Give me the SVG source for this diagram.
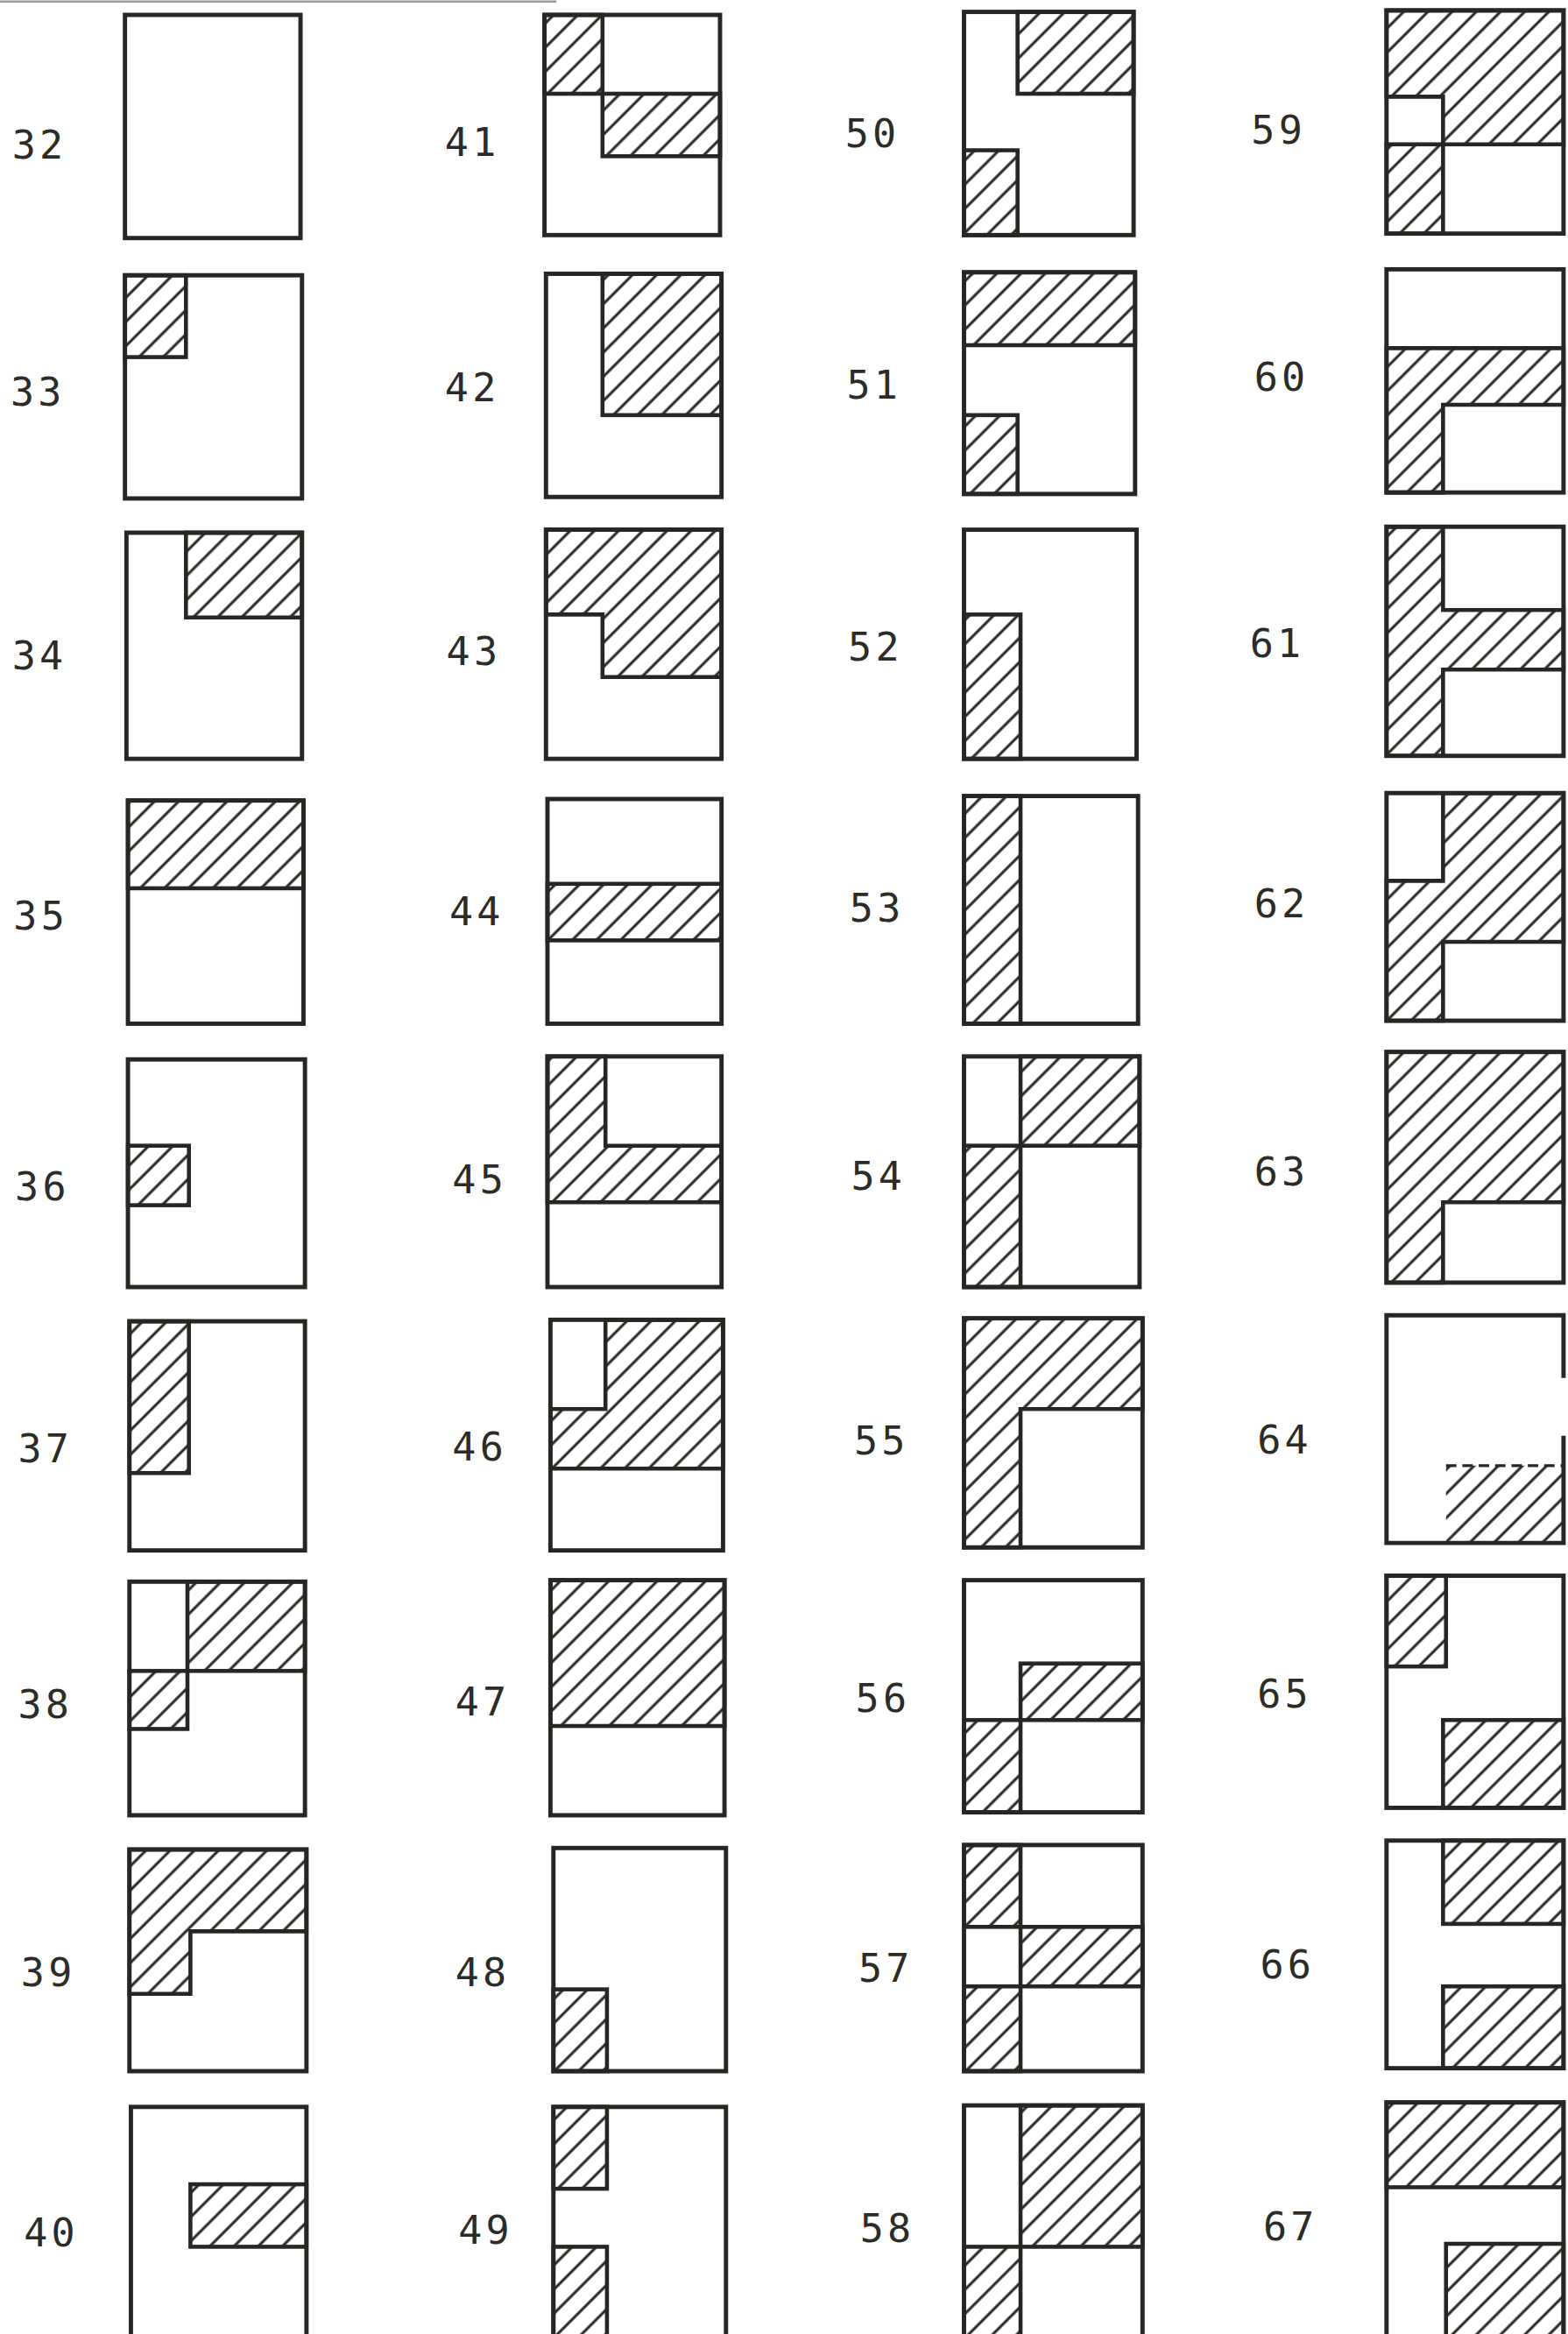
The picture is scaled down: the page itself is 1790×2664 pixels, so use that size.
<svg xmlns="http://www.w3.org/2000/svg" width="1790" height="2664" viewBox="0 0 1790 2664">
<defs>
<pattern id="h" patternUnits="userSpaceOnUse" width="11.5" height="11.5" patternTransform="rotate(45)">
<line x1="5.75" y1="-1" x2="5.75" y2="12.5" stroke="#262622" stroke-width="1.8"/>
</pattern>
<style>
.box{fill:none;stroke:#262622;stroke-width:2.9;stroke-linejoin:miter}
.hat{fill:url(#h);stroke:#262622;stroke-width:2.7;stroke-linejoin:miter}
.hn{fill:url(#h);stroke:none}
.lbl{font-family:"DejaVu Sans Mono","Liberation Mono",monospace;font-size:26.5px;letter-spacing:2.5px;fill:#2b2b28;text-anchor:middle}
</style>
</defs>
<rect width="1790" height="2664" fill="#ffffff"/>
<g transform="scale(1.6983)">
<line x1="0" y1="1" x2="374" y2="1" stroke="#9a9a9a" stroke-width="1.5"/>

<!-- column 1 -->
<g id="fig-32"><text class="lbl" x="26.5" y="106.7">32</text>
<rect class="box" x="84" y="10" width="118" height="150"/></g>
<g id="fig-33"><text class="lbl" x="25.5" y="272.7">33</text>
<rect class="hat" x="84" y="185" width="41" height="55"/>
<rect class="box" x="84" y="185" width="119" height="150"/></g>
<g id="fig-34"><text class="lbl" x="26.5" y="449.7">34</text>
<rect class="hat" x="125" y="358" width="78" height="57"/>
<rect class="box" x="85" y="358" width="118" height="152"/></g>
<g id="fig-35"><text class="lbl" x="27.5" y="624.7">35</text>
<rect class="hat" x="86" y="538" width="118" height="59"/>
<rect class="box" x="86" y="538" width="118" height="150"/></g>
<g id="fig-36"><text class="lbl" x="28.5" y="806.7">36</text>
<rect class="hat" x="86" y="770" width="41" height="40"/>
<rect class="box" x="86" y="712" width="119" height="153"/></g>
<g id="fig-37"><text class="lbl" x="30.5" y="982.7">37</text>
<rect class="hat" x="87" y="888" width="40" height="102"/>
<rect class="box" x="87" y="888" width="118" height="154"/></g>
<g id="fig-38"><text class="lbl" x="30.5" y="1154.7">38</text>
<rect class="hat" x="126" y="1063" width="79" height="60"/>
<rect class="hat" x="87" y="1123" width="39" height="39"/>
<rect class="box" x="87" y="1063" width="118" height="157"/></g>
<g id="fig-39"><text class="lbl" x="32.5" y="1334.7">39</text>
<polygon class="hat" points="87,1243 206,1243 206,1298 128,1298 128,1340 87,1340"/>
<rect class="box" x="87" y="1243" width="119" height="149"/></g>
<g id="fig-40"><text class="lbl" x="34.5" y="1509.7">40</text>
<rect class="hat" x="128" y="1468" width="78" height="42"/>
<rect class="box" x="88" y="1416" width="118" height="170"/></g>

<!-- column 2 -->
<g id="fig-41"><text class="lbl" x="317.5" y="104.7">41</text>
<rect class="hat" x="366" y="10" width="39" height="53"/>
<rect class="hat" x="405" y="63" width="79" height="42"/>
<rect class="box" x="366" y="10" width="118" height="148"/></g>
<g id="fig-42"><text class="lbl" x="317.5" y="269.7">42</text>
<rect class="hat" x="405" y="184" width="80" height="95"/>
<rect class="box" x="367" y="184" width="118" height="150"/></g>
<g id="fig-43"><text class="lbl" x="318.5" y="446.7">43</text>
<polygon class="hat" points="367,356 485,356 485,455 405,455 405,413 367,413"/>
<rect class="box" x="367" y="356" width="118" height="154"/></g>
<g id="fig-44"><text class="lbl" x="320.5" y="621.7">44</text>
<rect class="hat" x="368" y="594" width="117" height="38"/>
<rect class="box" x="368" y="537" width="117" height="151"/></g>
<g id="fig-45"><text class="lbl" x="322.5" y="801.7">45</text>
<polygon class="hat" points="368,710 407,710 407,770 485,770 485,808 368,808"/>
<rect class="box" x="368" y="710" width="117" height="155"/></g>
<g id="fig-46"><text class="lbl" x="322.5" y="981.7">46</text>
<polygon class="hat" points="407,887 486,887 486,987 370,987 370,947 407,947"/>
<rect class="box" x="370" y="887" width="116" height="155"/></g>
<g id="fig-47"><text class="lbl" x="324.5" y="1152.7">47</text>
<rect class="hat" x="370" y="1062" width="117" height="98"/>
<rect class="box" x="370" y="1062" width="117" height="158"/></g>
<g id="fig-48"><text class="lbl" x="324.5" y="1334.7">48</text>
<rect class="hat" x="372" y="1337" width="36" height="55"/>
<rect class="box" x="372" y="1242" width="116" height="150"/></g>
<g id="fig-49"><text class="lbl" x="326.5" y="1507.7">49</text>
<rect class="hat" x="372" y="1416" width="36" height="55"/>
<rect class="hat" x="372" y="1510" width="36" height="76"/>
<rect class="box" x="372" y="1416" width="116" height="170"/></g>

<!-- column 3 -->
<g id="fig-50"><text class="lbl" x="586.5" y="98.7">50</text>
<rect class="hat" x="684" y="8" width="78" height="55"/>
<rect class="hat" x="648" y="101" width="36" height="57"/>
<rect class="box" x="648" y="8" width="114" height="150"/></g>
<g id="fig-51"><text class="lbl" x="587.5" y="267.7">51</text>
<rect class="hat" x="648" y="183" width="115" height="49"/>
<rect class="hat" x="648" y="279" width="36" height="53"/>
<rect class="box" x="648" y="183" width="115" height="149"/></g>
<g id="fig-52"><text class="lbl" x="588.5" y="443.7">52</text>
<rect class="hat" x="648" y="413" width="38" height="97"/>
<rect class="box" x="648" y="356" width="116" height="154"/></g>
<g id="fig-53"><text class="lbl" x="589.5" y="619.7">53</text>
<rect class="hat" x="648" y="535" width="38" height="153"/>
<rect class="box" x="648" y="535" width="117" height="153"/></g>
<g id="fig-54"><text class="lbl" x="590.5" y="799.7">54</text>
<rect class="hat" x="686" y="710" width="80" height="60"/>
<rect class="hat" x="648" y="770" width="38" height="95"/>
<rect class="box" x="648" y="710" width="118" height="155"/></g>
<g id="fig-55"><text class="lbl" x="592.5" y="977.7">55</text>
<polygon class="hat" points="648,886 768,886 768,947 686,947 686,1040 648,1040"/>
<rect class="box" x="648" y="886" width="120" height="154"/></g>
<g id="fig-56"><text class="lbl" x="593.5" y="1150.7">56</text>
<rect class="hat" x="686" y="1118" width="82" height="38"/>
<rect class="hat" x="648" y="1156" width="38" height="62"/>
<rect class="box" x="648" y="1062" width="120" height="156"/></g>
<g id="fig-57"><text class="lbl" x="595.5" y="1331.7">57</text>
<rect class="hat" x="648" y="1240" width="38" height="55"/>
<rect class="hat" x="686" y="1295" width="82" height="40"/>
<rect class="hat" x="648" y="1335" width="38" height="57"/>
<rect class="box" x="648" y="1240" width="120" height="152"/></g>
<g id="fig-58"><text class="lbl" x="596.5" y="1506.7">58</text>
<rect class="hat" x="686" y="1415" width="82" height="95"/>
<rect class="hat" x="648" y="1510" width="38" height="76"/>
<rect class="box" x="648" y="1415" width="120" height="171"/></g>

<!-- column 4 -->
<g id="fig-59"><text class="lbl" x="859.5" y="96.7">59</text>
<polygon class="hat" points="932,7 1051,7 1051,97 970,97 970,65 932,65"/>
<rect class="hat" x="932" y="97" width="38" height="60"/>
<rect class="box" x="932" y="7" width="119" height="150"/></g>
<g id="fig-60"><text class="lbl" x="861.5" y="262.7">60</text>
<polygon class="hat" points="932,234 1051,234 1051,272 970,272 970,331 932,331"/>
<rect class="box" x="932" y="181" width="119" height="150"/></g>
<g id="fig-61"><text class="lbl" x="858.5" y="441.7">61</text>
<polygon class="hat" points="932,354 970,354 970,410 1051,410 1051,450 970,450 970,508 932,508"/>
<rect class="box" x="932" y="354" width="119" height="154"/></g>
<g id="fig-62"><text class="lbl" x="861.5" y="616.7">62</text>
<polygon class="hat" points="970,533 1051,533 1051,633 970,633 970,686 932,686 932,592 970,592"/>
<rect class="box" x="932" y="533" width="119" height="153"/></g>
<g id="fig-63"><text class="lbl" x="861.5" y="796.7">63</text>
<polygon class="hat" points="932,707 1051,707 1051,808 970,808 970,862 932,862"/>
<rect class="box" x="932" y="707" width="119" height="155"/></g>
<g id="fig-64"><text class="lbl" x="863.5" y="976.7">64</text>
<rect class="hn" x="972" y="985" width="79" height="52"/>
<line x1="972" y1="985" x2="1051" y2="985" stroke="#262622" stroke-width="2" stroke-dasharray="7 4"/>
<path class="box" d="M1051,926 V884 H932 V1037 H1051 V965"/></g>
<g id="fig-65"><text class="lbl" x="863.5" y="1147.7">65</text>
<rect class="hat" x="932" y="1059" width="40" height="61"/>
<rect class="hat" x="970" y="1156" width="81" height="59"/>
<rect class="box" x="932" y="1059" width="119" height="156"/></g>
<g id="fig-66"><text class="lbl" x="865.5" y="1329.7">66</text>
<rect class="hat" x="970" y="1237" width="81" height="56"/>
<rect class="hat" x="970" y="1335" width="81" height="55"/>
<rect class="box" x="932" y="1237" width="119" height="153"/></g>
<g id="fig-67"><text class="lbl" x="867.5" y="1505.7">67</text>
<rect class="hat" x="932" y="1413" width="119" height="57"/>
<rect class="hat" x="972" y="1508" width="79" height="78"/>
<rect class="box" x="932" y="1413" width="119" height="173"/></g>
</g>
</svg>
